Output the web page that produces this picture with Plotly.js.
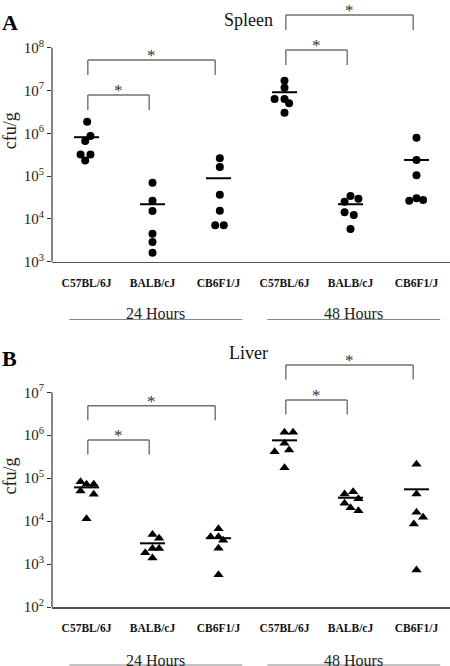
<!DOCTYPE html>
<html><head><meta charset="utf-8">
<script src="https://cdn.plot.ly/plotly-3.0.1.min.js"></script>
<style>html,body{margin:0;padding:0;background:#fff}#chart{width:450px;height:666px}</style>
</head><body><div id="chart"></div>
<script>
// ---------- data ----------
const strains = ['C57BL/6J','BALB/cJ','CB6F1/J','C57BL/6J','BALB/cJ','CB6F1/J'];
const timeGroups = ['24 Hours','48 Hours'];

// Spleen, cfu/g (6 mice per group)
const spleen_C57_24  = [1.87e6, 8.6e5, 6.6e5, 3.2e5, 3.2e5, 2.3e5];
const spleen_BALB_24 = [7.0e4, 2.66e4, 1.53e4, 4.5e3, 2.9e3, 1.62e3];
const spleen_CB6_24  = [2.6e5, 1.63e5, 3.67e4, 1.56e4, 7.1e3, 7.1e3];
const spleen_C57_48  = [1.69e7, 1.16e7, 6.3e6, 6.3e6, 5.0e6, 3.0e6];
const spleen_BALB_48 = [3.43e4, 2.97e4, 2.52e4, 1.43e4, 1.23e4, 5.8e3];
const spleen_CB6_48  = [7.9e5, 2.38e5, 1.04e5, 3.03e4, 2.77e4, 2.66e4];
const spleenMeans    = [8.1e5, 2.2e4, 8.9e4, 9.1e6, 2.2e4, 2.38e5];

// Liver, cfu/g
const liver_C57_24  = [8.3e4, 7.2e4, 7.2e4, 5.0e4, 4.2e4, 1.14e4];
const liver_BALB_24 = [4.9e3, 4.0e3, 2.3e3, 2.3e3, 1.84e3, 1.38e3];
const liver_CB6_24  = [6.6e3, 4.3e3, 4.3e3, 3.6e3, 2.33e3, 5.6e2];
const liver_C57_48  = [1.17e6, 1.17e6, 6.5e5, 4.5e5, 4.1e5, 1.75e5];
const liver_BALB_48 = [4.8e4, 4.3e4, 3.3e4, 2.6e4, 2.05e4, 1.75e4];
const liver_CB6_48  = [2.1e5, 4.3e4, 1.6e4, 1.23e4, 8.6e3, 7.3e2];
const liverMeans    = [6.1e4, 3.04e3, 4.0e3, 7.6e5, 3.5e4, 5.5e4];

// significant comparisons (group index pairs)
const comparisons = [[0,1],[0,2],[3,4],[3,5]];
const sigLabel = '*';

// ---------- presentation ----------
const spleenGroups = [spleen_C57_24, spleen_BALB_24, spleen_CB6_24, spleen_C57_48, spleen_BALB_48, spleen_CB6_48];
const liverGroups  = [liver_C57_24, liver_BALB_24, liver_CB6_24, liver_C57_48, liver_BALB_48, liver_CB6_48];
// horizontal scatter offsets of the dots (category units)
const spleenJitter = [[0.01,0.06,-0.02,-0.09,0.06,-0.02],[0,0,0,0,0,0],[0.02,0.02,0.02,0.02,-0.05,0.08],
                      [0,0,-0.15,0,0.07,0],[0,0.12,-0.09,-0.09,0.05,0],[0,0,0,0,0.1,-0.11]];
const liverJitter  = [[-0.09,0,0.11,-0.09,0.11,0],[0,0.1,0,0.1,-0.11,0],[0,-0.12,0,0.07,0,0],
                      [0,0.13,0,0.07,-0.15,0],[0.04,-0.09,0.12,-0.09,0,0.12],[0,0,0,0.1,-0.04,0]];
// bracket heights (log10) per panel
const spleenBracketLevels = [6.895, 7.713, 7.946, 8.764];
const liverBracketLevels  = [5.889, 6.688, 6.821, 7.636];

const SERIF = 'Liberation Serif, Times New Roman, serif';
const idx = strains.map((_, i) => i);
const L = 52, PW = 450 - L;

function pointsTrace(groups, jitter, xa, ya, symbol, size) {
  const x = [], y = [];
  groups.forEach((g, i) => g.forEach((v, k) => { x.push(i + jitter[i][k]); y.push(v); }));
  return {type:'scatter', mode:'markers', x, y, xaxis:xa, yaxis:ya, showlegend:false, hoverinfo:'y',
          marker:{symbol, size, color:'#000'}};
}
function meanTrace(means, xa, ya) {
  const x = [], y = [];
  means.forEach((m, i) => { x.push(i - 0.19, i + 0.19, null); y.push(m, m, null); });
  return {type:'scatter', mode:'lines', x, y, xaxis:xa, yaxis:ya, showlegend:false, hoverinfo:'skip',
          line:{color:'#000', width:2}};
}

const traces = [
  pointsTrace(spleenGroups, spleenJitter, 'x', 'y', 'circle', 8),
  meanTrace(spleenMeans, 'x', 'y'),
  pointsTrace(liverGroups, liverJitter, 'x2', 'y2', 'triangle-up', 9),
  meanTrace(liverMeans, 'x2', 'y2')
];

const shapes = [], annotations = [];
const bracketColor = '#707070';
function addBrackets(levels, drop, xa, ya) {
  comparisons.forEach(([a, b], j) => {
    const top = Math.pow(10, levels[j]), bot = Math.pow(10, levels[j] - drop);
    const xl = a + 0.02, xr = b - 0.05;
    const line = {color:bracketColor, width:1.4};
    shapes.push({type:'line', xref:xa, yref:ya, x0:xl, x1:xr, y0:top, y1:top, line});
    shapes.push({type:'line', xref:xa, yref:ya, x0:xl, x1:xl, y0:top, y1:bot, line});
    shapes.push({type:'line', xref:xa, yref:ya, x0:xr, x1:xr, y0:top, y1:bot, line});
    annotations.push({xref:xa, yref:ya, x:(xl + xr) / 2, y:levels[j], text:sigLabel, showarrow:false,
      yanchor:'bottom', yshift:-7, font:{family:SERIF, size:17, color:'#333'}});
  });
}
addBrackets(spleenBracketLevels, 0.35, 'x', 'y');
addBrackets(liverBracketLevels, 0.34, 'x2', 'y2');

// y axis lines (only span the labelled decades)
shapes.push({type:'line', xref:'x domain', yref:'y', x0:0, x1:0, y0:1e3, y1:1e8, line:{color:'#333', width:1.2}});
shapes.push({type:'line', xref:'x2 domain', yref:'y2', x0:0, x1:0, y0:1e2, y1:1e7, line:{color:'#333', width:1.2}});

// time group labels with underline
function addTimeGroups(textY, lineY, xa) {
  [[1.05, timeGroups[0]], [4.05, timeGroups[1]]].forEach(([c, t]) => {
    annotations.push({xref:xa, yref:'paper', x:c, y:textY, text:t, showarrow:false, yanchor:'middle',
      font:{family:SERIF, size:16, color:'#222'}});
    shapes.push({type:'line', xref:xa, yref:'paper', x0:c - 1.31, x1:c + 1.31, y0:lineY, y1:lineY,
      line:{color:'#888', width:1}});
  });
}
addTimeGroups(1 - 314/666, 1 - 319.5/666, 'x');
addTimeGroups(1 - 660/666, 1 - 665/666, 'x2');

// panel letters and titles
annotations.push({xref:'paper', yref:'paper', x:-L/PW, y:1 - 8/666, xanchor:'left', text:'<b>A</b>', showarrow:false,
  font:{family:SERIF, size:22, color:'#000'}});
annotations.push({xref:'paper', yref:'paper', x:(248 - L)/PW, y:1 - 8/666, text:'Spleen', showarrow:false,
  font:{family:SERIF, size:18, color:'#111'}});
annotations.push({xref:'paper', yref:'paper', x:-L/PW, y:1 - 358/666, xanchor:'left', text:'<b>B</b>', showarrow:false,
  font:{family:SERIF, size:22, color:'#000'}});
annotations.push({xref:'paper', yref:'paper', x:(248 - L)/PW, y:1 - 353/666, text:'Liver', showarrow:false,
  font:{family:SERIF, size:18, color:'#111'}});

function xAxis(anchor) {
  return {domain:[0,1], anchor, range:[-(86.5 - L)/66, (450 - 86.5)/66], showgrid:false, zeroline:false,
    showline:true, linecolor:'#555', linewidth:1.6, ticks:'', tickvals:idx, ticktext:strains,
    ticklabelstandoff:10, tickfont:{family:SERIF, size:11.5, weight:'bold', color:'#111'}, fixedrange:true};
}
function yAxis(anchor, domain, range, decades) {
  const tv = decades.map(d => Math.pow(10, d));
  return {type:'log', domain, anchor, range, showgrid:false, zeroline:false, showline:false,
    ticks:'outside', ticklen:4, tickcolor:'#333', tickwidth:1, tickvals:tv,
    ticktext:decades.map(d => '10<sup>' + d + '</sup>'),
    tickfont:{family:SERIF, size:15, color:'#222'},
    title:{text:'cfu/g', font:{family:SERIF, size:18, color:'#222'}, standoff:5}, fixedrange:true};
}

const layout = {
  width:450, height:666, margin:{l:L, r:0, t:0, b:0},
  paper_bgcolor:'#fff', plot_bgcolor:'#fff', showlegend:false,
  xaxis:xAxis('y'),
  yaxis:yAxis('x', [1 - 261.7/666, 1], [3, 9.114], [3,4,5,6,7,8]),
  xaxis2:xAxis('y2'),
  yaxis2:yAxis('x2', [1 - 607/666, 1 - 345/666], [2, 8.101], [2,3,4,5,6,7]),
  shapes, annotations
};

Plotly.newPlot('chart', traces, layout, {displayModeBar:false, staticPlot:true});
</script></body></html>
